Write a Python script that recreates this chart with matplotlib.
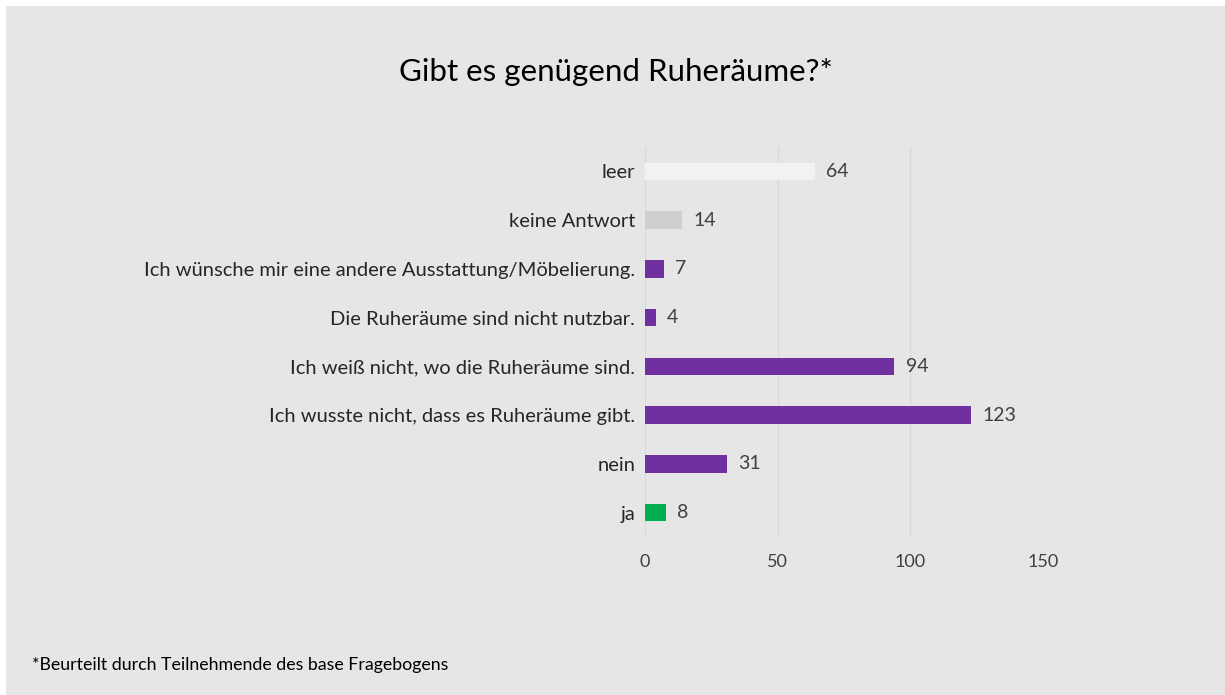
import matplotlib.pyplot as plt
from matplotlib.patches import Rectangle

# --- Data (top to bottom as shown) ------------------------------------------
categories = ["leer", "keine Antwort",
              "Ich wünsche mir eine andere Ausstattung/Möbelierung.",
              "Die Ruheräume sind nicht nutzbar.",
              "Ich weiß nicht, wo die Ruheräume sind.",
              "Ich wusste nicht, dass es Ruheräume gibt.",
              "nein", "ja"]
values = [64, 14, 7, 4, 94, 123, 31, 8]
bar_colors = ["#F2F2F2", "#D0CECE", "#7030A0", "#7030A0", "#7030A0",
              "#7030A0", "#7030A0", "#00B050"]
x_ticks = [0, 50, 100, 150]

BG = "#E7E6E6"
plt.rcParams["font.family"] = ["Lato", "DejaVu Sans"]

fig = plt.figure(figsize=(12.25, 6.95), dpi=100, facecolor="white")
fig.patches.append(Rectangle((6 / 1225, 0), 1, 1 - 6 / 695,
                             transform=fig.transFigure, facecolor=BG,
                             edgecolor="none", zorder=-10))

ax = fig.add_axes([645 / 1225, 1 - 537 / 695, 398 / 1225, 390 / 695])
ax.set_facecolor(BG)
ax.patch.set_alpha(0)

ypos = list(range(len(categories)))
ax.barh(ypos, values, height=0.36, color=bar_colors, zorder=3)
for y, v in zip(ypos, values):
    ax.text(v + 4.2, y, str(v), va="center", ha="left", fontsize=14,
            color="#404040")

ax.set_ylim(len(categories) - 0.5, -0.5)
ax.set_xlim(0, 150)
ax.set_yticks(ypos)
ax.set_yticklabels(categories, fontsize=14.5, color="#262626")
ax.set_xticks(x_ticks)
ax.set_xticklabels([str(t) for t in x_ticks], fontsize=13, color="#404040")
ax.tick_params(length=0)
ax.tick_params(axis="y", pad=7)
ax.tick_params(axis="x", pad=12)
ax.grid(axis="x", color="#D9D9D9", lw=1, zorder=0)
for s in ax.spines.values():
    s.set_visible(False)

fig.text(0.5 + 3 / 1225, 1 - 72 / 695, "Gibt es genügend Ruheräume?*",
         ha="center", va="center", fontsize=22.5, color="#000000")
fig.text(32 / 1225, 1 - 665 / 695,
         "*Beurteilt durch Teilnehmende des base Fragebogens",
         ha="left", va="center", fontsize=12.8, color="#000000")

fig.savefig("out.png", dpi=100, facecolor="white")
